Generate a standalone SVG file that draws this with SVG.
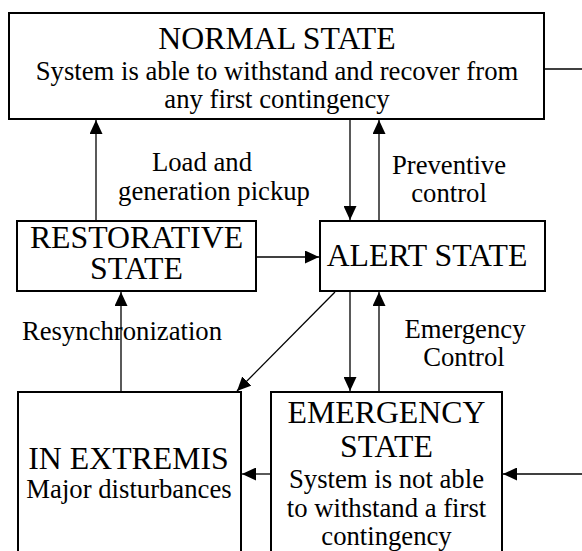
<svg xmlns="http://www.w3.org/2000/svg" width="582" height="551" viewBox="0 0 582 551">
<style>
.box{fill:#fff;stroke:#000;stroke-width:2}
.t{font-size:31.8px;fill:#000;text-anchor:middle}
.s{font-size:26.7px;fill:#000;text-anchor:middle}
.c{stroke:#000;stroke-width:1.3;fill:none}
.a{marker-end:url(#ah)}
</style>
<defs>
<marker id="ah" viewBox="0 0 14 13" refX="14" refY="6.5" markerWidth="14" markerHeight="13" orient="auto" markerUnits="userSpaceOnUse">
<path d="M0,0 L14,6.5 L0,13 Z" fill="#000"/>
</marker>
</defs>
<rect width="582" height="551" fill="#fff"/>
<g id="connectors">
<line class="c a" x1="96" y1="221" x2="96" y2="120"/>
<line class="c a" x1="350" y1="119" x2="350" y2="220"/>
<line class="c a" x1="379" y1="221" x2="379" y2="120"/>
<line class="c a" x1="256" y1="257" x2="319" y2="257"/>
<line class="c a" x1="335" y1="292" x2="237" y2="391"/>
<line class="c a" x1="350" y1="291" x2="350" y2="391"/>
<line class="c a" x1="379" y1="392" x2="379" y2="292"/>
<line class="c a" x1="121" y1="392" x2="121" y2="292"/>
<line class="c a" x1="271" y1="474" x2="242" y2="474"/>
<line class="c" x1="544" y1="69" x2="582" y2="69"/>
<line class="c a" x1="582" y1="474" x2="503" y2="474"/>
</g>
<g font-family="'Liberation Serif', serif">
<g id="normal">
<rect class="box" x="9" y="13" width="535" height="106"/>
<text class="t" x="277" y="49">NORMAL STATE</text>
<text class="s" x="277" y="80">System is able to withstand and recover from</text>
<text class="s" x="277" y="108">any first contingency</text>
</g>
<g id="restorative">
<rect class="box" x="17" y="221" width="239" height="70"/>
<text class="t" x="136.5" y="248">RESTORATIVE</text>
<text class="t" x="136.5" y="279">STATE</text>
</g>
<g id="alert">
<rect class="box" x="320" y="221" width="225" height="70"/>
<text class="t" x="427" y="266">ALERT STATE</text>
</g>
<g id="inextremis">
<rect class="box" x="18" y="392" width="223" height="175"/>
<text class="t" x="128.5" y="469">IN EXTREMIS</text>
<text class="s" x="129" y="498">Major disturbances</text>
</g>
<g id="emergency">
<rect class="box" x="271" y="392" width="231" height="175"/>
<text class="t" x="386.5" y="423">EMERGENCY</text>
<text class="t" x="386.5" y="457">STATE</text>
<text class="s" x="386.5" y="488">System is not able</text>
<text class="s" x="386.5" y="517">to withstand a first</text>
<text class="s" x="386.5" y="545">contingency</text>
</g>
<g id="labels">
<text class="s" x="202" y="171">Load and</text>
<text class="s" x="214" y="200">generation pickup</text>
<text class="s" x="449" y="174">Preventive</text>
<text class="s" x="449" y="202">control</text>
<text class="s" x="122" y="340">Resynchronization</text>
<text class="s" x="465" y="338">Emergency</text>
<text class="s" x="464" y="366">Control</text>
</g>
</g>
</svg>
